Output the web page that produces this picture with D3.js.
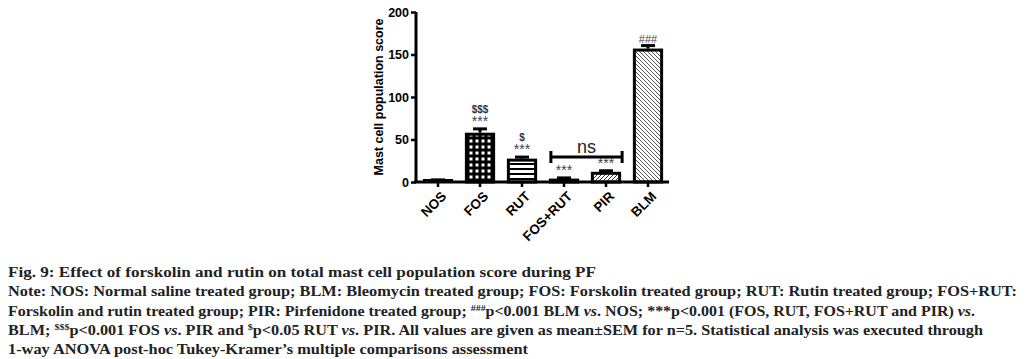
<!DOCTYPE html>
<html><head><meta charset="utf-8">
<script src="https://cdn.jsdelivr.net/npm/d3@7"></script>
<style>body{margin:0;background:#fff}svg{display:block}</style>
</head><body>
<svg id="c" width="1029" height="359"></svg>
<script>
const categories = ["NOS","FOS","RUT","FOS+RUT","PIR","BLM"];
const means = [2, 58, 27.5, 4, 12, 157];
const sems  = [0.5, 4.5, 1.8, 0.8, 1.2, 3.5];
const starLabels = ["", "***", "***", "***", "***", "###"];
const dollarLabels = ["", "$$$", "$", "", "", ""];
const yTicks = [0, 50, 100, 150, 200];
const yLabel = "Mast cell population score";

const svg = d3.select("#c");
const defs = svg.append("defs");
const pCheck = defs.append("pattern").attr("id","pCheck").attr("patternUnits","userSpaceOnUse").attr("width",6).attr("height",6);
pCheck.append("rect").attr("width",6).attr("height",6).attr("fill","#000");
pCheck.append("rect").attr("x",1.5).attr("y",1.5).attr("width",3).attr("height",3).attr("fill","#fff");
const pH = defs.append("pattern").attr("id","pH").attr("patternUnits","userSpaceOnUse").attr("width",10).attr("height",5);
pH.append("rect").attr("width",10).attr("height",5).attr("fill","#fff");
pH.append("rect").attr("y",3).attr("width",10).attr("height",2).attr("fill","#000");
const pF = defs.append("pattern").attr("id","pF").attr("patternUnits","userSpaceOnUse").attr("width",4).attr("height",4);
pF.append("rect").attr("width",4).attr("height",4).attr("fill","#fff");
pF.append("path").attr("d","M-1,1 L1,-1 M0,4 L4,0 M3,5 L5,3").attr("stroke","#333").attr("stroke-width",1);
const pB = defs.append("pattern").attr("id","pB").attr("patternUnits","userSpaceOnUse").attr("width",4).attr("height",4);
pB.append("rect").attr("width",4).attr("height",4).attr("fill","#fff");
pB.append("path").attr("d","M-1,3 L1,5 M0,0 L4,4 M3,-1 L5,1").attr("stroke","#555").attr("stroke-width",1);
const fills = ["#fff","url(#pCheck)","url(#pH)","#000","url(#pF)","url(#pB)"];

const x = d3.scaleBand().domain(categories).range([417, 669]).paddingInner(0.28).paddingOuter(0.14);
const y = d3.scaleLinear().domain([0, 200]).range([182, 12]);

const g = svg.append("g");
g.selectAll("rect.bar").data(categories).join("rect")
  .attr("x", d => x(d)+1.5).attr("width", x.bandwidth()-3)
  .attr("y", (d,i) => Math.min(y(means[i])+1.5, y(0)-1.5))
  .attr("height", (d,i) => Math.max(0.5, y(0)-y(means[i])-1.5))
  .attr("fill", (d,i) => fills[i]).attr("stroke","#000").attr("stroke-width",3);
categories.forEach((d,i) => {
  const cx = x(d)+x.bandwidth()/2;
  g.append("line").attr("x1",cx).attr("x2",cx).attr("y1",y(means[i])).attr("y2",y(means[i]+sems[i])).attr("stroke","#000").attr("stroke-width",3);
  g.append("line").attr("x1",cx-7).attr("x2",cx+7).attr("y1",y(means[i]+sems[i])).attr("y2",y(means[i]+sems[i])).attr("stroke","#000").attr("stroke-width",3);
  const top = y(means[i]+sems[i]);
  if (starLabels[i]) g.append("text").attr("x",cx).attr("y",top-3).attr("text-anchor","middle")
     .attr("font-family","Arial, Liberation Sans").attr("font-size", starLabels[i]==="###"?11:14).attr("fill","#3a3f55")
     .text(starLabels[i]);
  if (dollarLabels[i]) g.append("text").attr("x",cx).attr("y",top-16).attr("text-anchor","middle")
     .attr("font-family","Arial, Liberation Sans").attr("font-size",10).attr("font-weight","bold").attr("fill","#333")
     .text(dollarLabels[i]);
});

const x1 = x("FOS+RUT")+2, x2 = x("PIR")+x.bandwidth()+1;
const by = 157;
g.append("line").attr("x1",x1).attr("x2",x2).attr("y1",by).attr("y2",by).attr("stroke","#000").attr("stroke-width",3);
g.append("line").attr("x1",x1).attr("x2",x1).attr("y1",by-6).attr("y2",by+6).attr("stroke","#000").attr("stroke-width",3);
g.append("line").attr("x1",x2).attr("x2",x2).attr("y1",by-6).attr("y2",by+6).attr("stroke","#000").attr("stroke-width",3);
g.append("text").attr("x",(x1+x2)/2).attr("y",by-4).attr("text-anchor","middle")
  .attr("font-family","Arial, Liberation Sans").attr("font-size",18).attr("fill","#222").text("ns");

const ya = svg.append("g").attr("transform","translate(416,0)")
  .call(d3.axisLeft(y).tickValues(yTicks).tickSize(5).tickPadding(2));
ya.select(".domain").attr("stroke-width",3).attr("d","M0,"+y(200)+"V"+y(0));
ya.selectAll(".tick line").attr("stroke-width",2.5);
ya.selectAll("text").attr("font-family","Arial, Liberation Sans").attr("font-weight","bold").attr("font-size",12.5).attr("fill","#000");

const xa = svg.append("g").attr("transform","translate(0,182)")
  .call(d3.axisBottom(x).tickSize(5).tickSizeOuter(0).tickPadding(4));
xa.select(".domain").attr("stroke-width",3).attr("d","M414,0H669");
xa.selectAll(".tick line").attr("stroke-width",2.5);
xa.selectAll("text").attr("font-family","Arial, Liberation Sans").attr("font-weight","bold").attr("font-size",13.5).attr("fill","#000")
  .attr("text-anchor","end").attr("transform","translate(3,9) rotate(-45)").attr("dy","0.35em").attr("y",4).attr("x",0);

svg.append("text").attr("transform","translate(383,97) rotate(-90)").attr("text-anchor","middle")
  .attr("font-family","Arial, Liberation Sans").attr("font-weight","bold").attr("font-size",12.5).text(yLabel);

const cap = svg.append("g").attr("font-family","Liberation Serif, Times New Roman, serif").attr("font-weight","bold").attr("font-size",14.5).attr("fill","#222");
const lines = [
  [["Fig. 9: Effect of forskolin and rutin on total mast cell population score during PF"]],
  [["Note: NOS: Normal saline treated group; BLM: Bleomycin treated group; FOS: Forskolin treated group; RUT: Rutin treated group; FOS+RUT:"]],
  [["Forskolin and rutin treated group; PIR: Pirfenidone treated group; "],["###","sup"],["p<0.001 BLM "],["vs","i"],[". NOS; ***p<0.001 (FOS, RUT, FOS+RUT and PIR) "],["vs","i"],["."]],
  [["BLM; "],["$$$","sup"],["p<0.001 FOS "],["vs","i"],[". PIR and "],["$","sup"],["p<0.05 RUT "],["vs","i"],[". PIR. All values are given as mean±SEM for n=5. Statistical analysis was executed through"]],
  [["1-way ANOVA post-hoc Tukey-Kramer’s multiple comparisons assessment"]]
];
const ends = [596, 1017, 975, 983, 528];
lines.forEach((parts,li) => {
  const t = cap.append("text").attr("x",8).attr("y",277+li*19.3);
  parts.forEach(p => {
    const ts = t.append("tspan").text(p[0]);
    if (p[1]==="sup") ts.attr("font-size",9).attr("baseline-shift","5");
    if (p[1]==="i") ts.attr("font-style","italic");
  });
  const w = t.node().getComputedTextLength();
  const target = ends[li]-8;
  if (Math.abs(w-target) > 2) t.attr("textLength", target).attr("lengthAdjust","spacingAndGlyphs");
});
</script>
</body></html>
